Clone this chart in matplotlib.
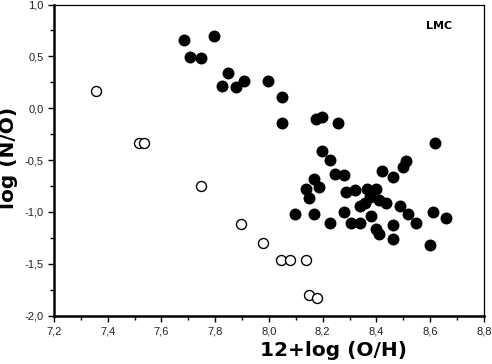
import numpy as np
import matplotlib.pyplot as plt
from matplotlib.ticker import MultipleLocator, FuncFormatter

# filled circles
oh_filled = [7.685, 7.796, 7.707, 7.747, 7.846, 7.826, 7.878, 7.908, 7.997, 8.048,
             8.048, 8.175, 8.198, 8.258, 8.618, 8.197, 8.228, 8.510, 8.500, 8.419,
             8.460, 8.246, 8.280, 8.167, 8.138, 8.187, 8.149, 8.287, 8.319, 8.366,
             8.399, 8.376, 8.357, 8.337, 8.409, 8.435, 8.487, 8.518, 8.609, 8.659,
             8.097, 8.167, 8.278, 8.378, 8.227, 8.306, 8.339, 8.547, 8.460, 8.398,
             8.410, 8.460, 8.599]
no_filled = [0.655, 0.700, 0.494, 0.484, 0.339, 0.214, 0.205, 0.265, 0.265, 0.105,
             -0.146, -0.107, -0.082, -0.146, -0.336, -0.413, -0.497, -0.512, -0.570, -0.602,
             -0.667, -0.637, -0.647, -0.680, -0.779, -0.757, -0.866, -0.811, -0.786, -0.776,
             -0.776, -0.853, -0.911, -0.940, -0.888, -0.914, -0.946, -1.020, -0.998, -1.059,
             -1.020, -1.020, -1.001, -1.040, -1.110, -1.110, -1.110, -1.110, -1.126, -1.165,
             -1.213, -1.261, -1.319]

# open circles
oh_open = [7.355, 7.518, 7.536, 7.746, 7.897, 7.976, 8.046, 8.078, 8.139, 8.148, 8.179]
no_open = [0.166, -0.339, -0.339, -0.750, -1.120, -1.300, -1.464, -1.464, -1.464, -1.804, -1.830]

fig = plt.figure(figsize=(4.92, 3.64), dpi=100)
ax = fig.add_axes([54/492, 1 - 315.7/364, 430/492, 311.2/364])

ax.plot(oh_filled, no_filled, 'o', color='black', markersize=8.6, markeredgewidth=0)
ax.plot(oh_open, no_open, 'o', markerfacecolor='white', markeredgecolor='black',
        markersize=7.2, markeredgewidth=1.0)

ax.set_xlim(7.2, 8.8)
ax.set_ylim(-2.0, 1.0)
ax.xaxis.set_major_locator(MultipleLocator(0.2))
ax.xaxis.set_minor_locator(MultipleLocator(0.1))
ax.yaxis.set_major_locator(MultipleLocator(0.5))
ax.yaxis.set_minor_locator(MultipleLocator(0.25))
comma = FuncFormatter(lambda v, p: f"{v:.1f}".replace('.', ','))
ax.xaxis.set_major_formatter(comma)
ax.yaxis.set_major_formatter(comma)

ax.tick_params(which='both', direction='out', top=False, right=False,
               labelsize=8, width=1, labelcolor='#222222')
ax.tick_params(which='major', length=4)
ax.tick_params(which='minor', length=3)
for lab in ax.get_xticklabels() + ax.get_yticklabels():
    lab.set_family('Liberation Sans')

ax.spines['left'].set_linewidth(1.8)
ax.spines['bottom'].set_linewidth(1.8)
ax.spines['top'].set_linewidth(0.9)
ax.spines['right'].set_linewidth(0.9)

ax.text(0.895, 0.931, 'LMC', transform=ax.transAxes, fontsize=8,
        fontweight='bold', ha='center', va='center')

fig.text(334/492, 1 - 350/364, '12+log (O/H)', fontsize=14.5, fontweight='bold',
         ha='center', va='center')
fig.text(9/492, 1 - 158/364, 'log (N/O)', fontsize=14.5, fontweight='bold',
         ha='center', va='center', rotation=90)

fig.savefig('out.png', dpi=100)
